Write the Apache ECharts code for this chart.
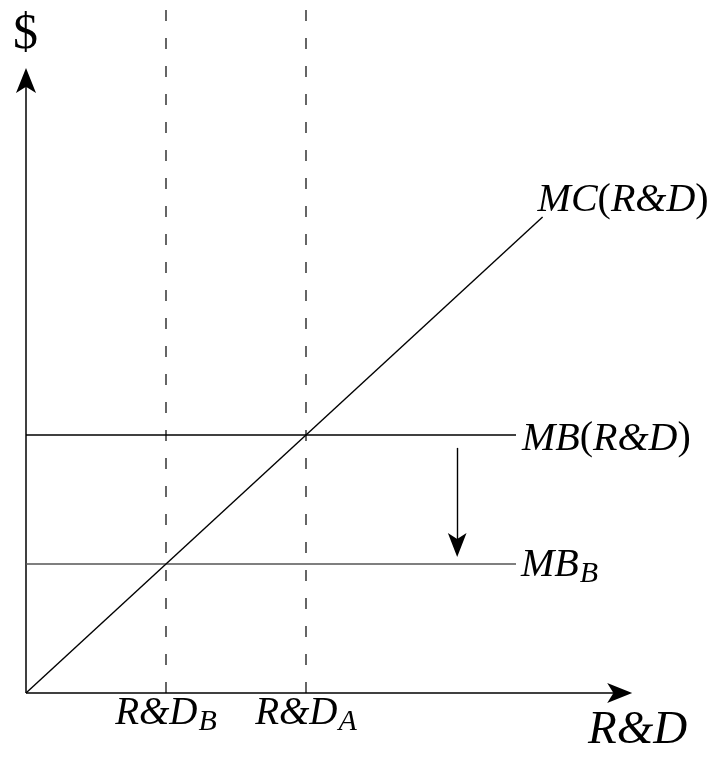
<!DOCTYPE html>
<html>
<head>
<meta charset="utf-8">
<script src="https://cdn.jsdelivr.net/npm/echarts@6/dist/echarts.min.js"></script>
<style>
html,body{margin:0;padding:0;background:#fff;}
#chart{width:726px;height:757px;}
</style>
</head>
<body>
<div id="chart"></div>
<script>
// ---- data ----
const xTickValues = [1, 2];
const xTickMain = ['R&D', 'R&D'];
const xTickSub = ['B', 'A'];
const dashedX = [1, 2];
const mcX = [0, 3.69];
const mcY = [0, 3.69];
const mbLevel = 2;
const mbBLevel = 1;
const mbEndX = 3.5;
const shiftArrowX = 3.08;
const shiftArrowFrom = 1.9;
const shiftArrowTo = 1.054;
const xAxisEnd = 4.33;
const yAxisEnd = 4.845;
const xMax = 5;
const yMax = 5.372;

const FONT = '"Liberation Serif", "DejaVu Serif", serif';
function makeRich(size, subSize, subPad) {
  return {
    m: {fontSize: size, lineHeight: size, verticalAlign: 'top', fontStyle: 'italic', fontFamily: FONT, color: '#000'},
    s: {fontSize: subSize, lineHeight: subSize, verticalAlign: 'top', padding: [subPad, 0, 0, 1], fontStyle: 'italic', fontFamily: FONT, color: '#000'},
    p: {fontSize: size, lineHeight: size, verticalAlign: 'top', fontFamily: FONT, color: '#000'}
  };
}
const tickRich = makeRich(39, 30, 13);
const curveRich = makeRich(40, 30, 14);

const chart = echarts.init(document.getElementById('chart'), null, {renderer: 'canvas'});

const lineBase = {type: 'line', symbol: 'none', silent: true, animation: false, clip: false};

const option = {
  animation: false,
  backgroundColor: '#fff',
  grid: {left: 26, right: 0, top: 0, bottom: 64, containLabel: false},
  xAxis: {
    type: 'value', min: 0, max: xMax,
    axisLine: {show: false}, axisTick: {show: false}, splitLine: {show: false},
    axisLabel: {
      show: true,
      customValues: xTickValues,
      margin: 1,
      formatter: function (v) {
        const i = xTickValues.indexOf(v);
        if (i < 0) return '';
        return '{m|' + xTickMain[i] + '}{s|' + xTickSub[i] + '}';
      },
      rich: tickRich
    }
  },
  yAxis: {
    type: 'value', min: 0, max: yMax,
    axisLine: {show: false}, axisTick: {show: false}, splitLine: {show: false}, axisLabel: {show: false}
  },
  graphic: [
    {type: 'text', left: 13, top: 10, style: {text: '$', font: '50px ' + FONT, fill: '#000'}},
    {type: 'text', left: 588, top: 707, style: {text: 'R&D', font: 'italic 47px ' + FONT, fill: '#000'}}
  ],
  series: [
    // dashed verticals
    ...dashedX.map(x => Object.assign({}, lineBase, {
      data: [[x, 0], [x, yMax]],
      lineStyle: {color: '#000', width: 1.2, type: [11, 17]}
    })),
    // MB(R&D)
    Object.assign({}, lineBase, {
      data: [[0, mbLevel], [mbEndX, mbLevel]],
      endLabel: {
        show: true, distance: 6, offset: [0, 4],
        formatter: '{m|MB}{p|(}{m|R&D}{p|)}', rich: curveRich
      },
      lineStyle: {color: '#000', width: 1.4}
    }),
    // MB_B
    Object.assign({}, lineBase, {
      data: [[0, mbBLevel], [mbEndX, mbBLevel]],
      endLabel: {
        show: true, distance: 5, offset: [0, 1],
        formatter: '{m|MB}{s|B}', rich: curveRich
      },
      lineStyle: {color: '#555', width: 1.6}
    }),
    // MC(R&D)
    Object.assign({}, lineBase, {
      data: [[mcX[0], mcY[0]], [mcX[1], mcY[1]]],
      endLabel: {
        show: true, distance: -5, offset: [0, -16],
        formatter: '{m|MC}{p|(}{m|R&D}{p|)}', rich: curveRich
      },
      lineStyle: {color: '#000', width: 1.4}
    }),
    // axes and shift arrow shafts
    {
      type: 'lines', coordinateSystem: 'cartesian2d', silent: true, animation: false, clip: false,
      symbol: 'none',
      lineStyle: {color: '#000', width: 1.5, opacity: 1},
      data: [
        {coords: [[0, 0], [xAxisEnd - 0.1, 0]]},
        {coords: [[0, 0], [0, yAxisEnd - 0.1]]},
        {coords: [[shiftArrowX, shiftArrowFrom], [shiftArrowX, shiftArrowTo + 0.1]], lineStyle: {width: 1.4}}
      ]
    },
    // arrow heads (tip at the given point)
    {
      type: 'scatter', silent: true, animation: false, clip: false,
      symbol: 'arrow',
      itemStyle: {color: '#000', opacity: 1},
      data: [
        {value: [xAxisEnd, 0], symbolSize: [15, 25], symbolRotate: -90},
        {value: [0, yAxisEnd], symbolSize: [15, 25], symbolRotate: 0},
        {value: [shiftArrowX, shiftArrowTo], symbolSize: [14, 24], symbolRotate: 180}
      ]
    }
  ]
};
chart.setOption(option);
</script>
</body>
</html>
